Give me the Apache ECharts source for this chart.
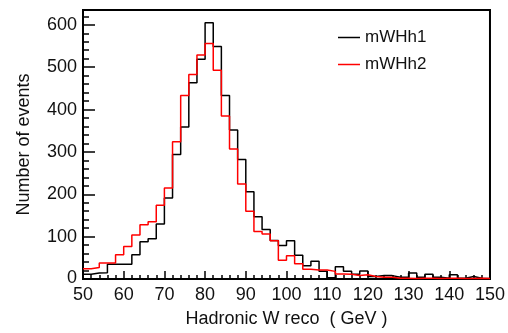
<!DOCTYPE html>
<html>
<head>
<meta charset="utf-8">
<script src="https://cdn.jsdelivr.net/npm/echarts@6/dist/echarts.min.js"></script>
<style>
  html, body { margin: 0; padding: 0; background: #fff; }
  #chart { width: 508px; height: 333px; }
</style>
</head>
<body>
<div id="chart"></div>
<script>
// lower edges of the 2 GeV bins, 50 .. 148
const binLow = [50, 52, 54, 56, 58, 60, 62, 64, 66, 68, 70, 72, 74, 76, 78, 80, 82, 84, 86, 88,
  90, 92, 94, 96, 98, 100, 102, 104, 106, 108, 110, 112, 114, 116, 118, 120, 122, 124, 126, 128,
  130, 132, 134, 136, 138, 140, 142, 144, 146, 148];
const histEnd = 150;

const mWHh1 = [11, 14, 15, 35, 35, 35, 57, 88, 95, 130, 191, 294, 359, 463, 519, 605, 549, 433, 352, 282,
  206, 147, 117, 91, 79, 90, 56, 31, 42, 18, 3, 29, 18, 11, 19, 6, 8, 8, 4, 4,
  14, 4, 11, 4, 2, 10, 2, 6, 2, 1];
const mWHh2 = [24, 27, 38, 38, 57, 77, 104, 128, 135, 174, 215, 324, 433, 483, 529, 556, 493, 385, 307, 224,
  160, 112, 106, 90, 44, 55, 36, 23, 21, 21, 18, 12, 11, 8, 10, 6, 4, 4, 2, 2,
  1, 2, 2, 1, 2, 2, 1, 1, 2, 1];

const xTicks = [50, 150, 10];
const yTicks = [0, 635, 100];

const font = 'Liberation Sans, Arial, Helvetica, sans-serif';

// step line through bin edges, last bin closed at histEnd
const toSteps = (values) => {
  const pts = binLow.map((x, i) => [x, values[i]]);
  pts.push([histEnd, values[values.length - 1]]);
  return pts;
};

const chart = echarts.init(document.getElementById('chart'), null, { renderer: 'canvas' });

const histSeries = (name, values, color) => ({
  name,
  type: 'line',
  step: 'end',
  symbol: 'none',
  data: toSteps(values),
  lineStyle: { color, width: 1.5 },
  itemStyle: { color },
  clip: true,
  animation: false,
});

chart.setOption({
  animation: false,
  textStyle: { fontFamily: font },
  grid: {
    left: 83, right: 16, top: 10, bottom: 45,
    show: true, borderColor: '#000', borderWidth: 2, backgroundColor: 'transparent',
  },
  legend: {
    orient: 'vertical',
    left: 333, top: 24,
    icon: 'rect',
    itemWidth: 22, itemHeight: 1.5, itemGap: 10,
    textStyle: { fontFamily: font, fontSize: 17, lineHeight: 17, color: '#111' },
    data: ['mWHh1', 'mWHh2'],
  },
  xAxis: {
    type: 'value',
    min: xTicks[0], max: xTicks[1], interval: xTicks[2],
    name: 'Hadronic W reco  ( GeV )',
    nameLocation: 'middle', nameGap: 31,
    nameTextStyle: { fontFamily: font, fontSize: 18, color: '#111' },
    axisLine: { show: true, onZero: false, lineStyle: { color: '#000', width: 2 } },
    axisTick: { show: true, inside: true, length: 8, lineStyle: { color: '#000', width: 1.5 } },
    minorTick: { show: true, splitNumber: 5, length: 4, lineStyle: { color: '#000', width: 1.5 } },
    axisLabel: { fontFamily: font, fontSize: 18, color: '#111', margin: 7 },
    splitLine: { show: false },
  },
  yAxis: {
    type: 'value',
    min: yTicks[0], max: yTicks[1], interval: yTicks[2],
    name: 'Number of events',
    nameLocation: 'middle', nameGap: 50,
    nameTextStyle: { fontFamily: font, fontSize: 18, color: '#111' },
    axisLine: { show: true, lineStyle: { color: '#000', width: 2 } },
    axisTick: { show: true, inside: true, length: 12, lineStyle: { color: '#000', width: 1.5 } },
    minorTick: { show: true, splitNumber: 5, length: 6, lineStyle: { color: '#000', width: 1.5 } },
    axisLabel: {
      fontFamily: font, fontSize: 18, color: '#111', margin: 6,
      showMaxLabel: false,
      formatter: (v) => (v === 0 ? '{z|0}' : String(v)),
      rich: { z: { fontFamily: font, fontSize: 18, color: '#111', padding: [0, 0, 2, 0] } },
    },
    splitLine: { show: false },
  },
  series: [
    histSeries('mWHh1', mWHh1, '#000'),
    histSeries('mWHh2', mWHh2, '#ff0000'),
  ],
});
</script>
</body>
</html>
